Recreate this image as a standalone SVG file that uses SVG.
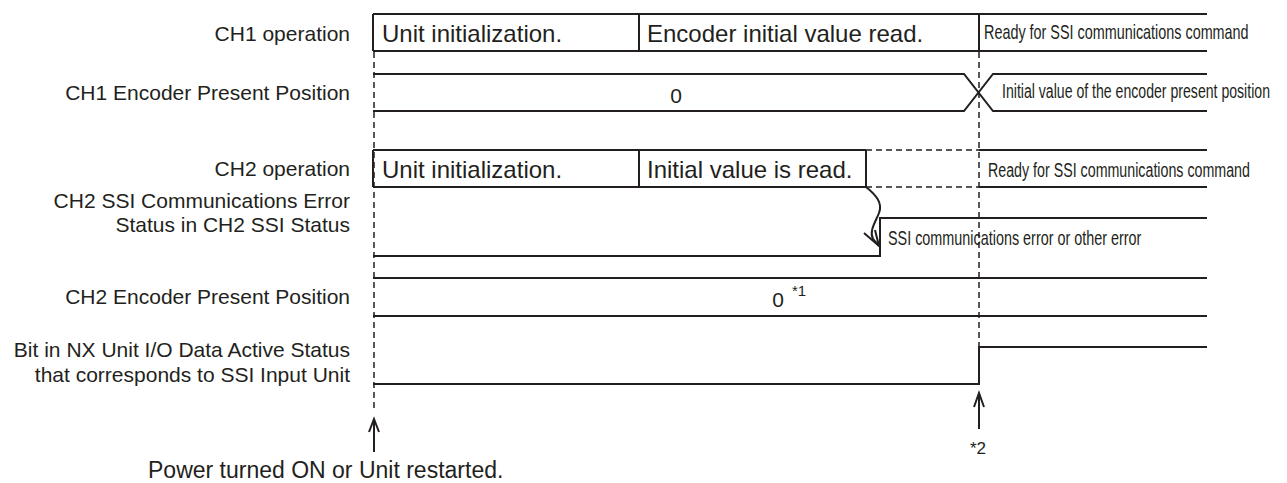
<svg xmlns="http://www.w3.org/2000/svg" width="1287" height="483" viewBox="0 0 1287 483">
<style>
.lbl{font-family:"Liberation Sans",Arial,sans-serif;font-size:21px;fill:#231f20;text-anchor:end}
.box{font-family:"Liberation Sans",Arial,sans-serif;font-size:24px;fill:#231f20}
.val{font-family:"Liberation Sans",Arial,sans-serif;font-size:21px;fill:#231f20;text-anchor:middle}
.nar{font-family:"Liberation Sans",Arial,sans-serif;font-size:20px;fill:#231f20}
.note{font-family:"Liberation Sans",Arial,sans-serif;fill:#231f20}
.sig{fill:none;stroke:#231f20;stroke-width:2}
.dash{fill:none;stroke:#231f20;stroke-width:1.5;stroke-dasharray:6 4}
.arr{fill:none;stroke:#231f20;stroke-width:2}
</style>
<rect width="1287" height="483" fill="#fff"/>
<g id="labels">
<text class="lbl" x="350" y="41">CH1 operation</text>
<text class="lbl" x="350" y="100">CH1 Encoder Present Position</text>
<text class="lbl" x="350" y="176">CH2 operation</text>
<text class="lbl" x="350" y="208">CH2 SSI Communications Error</text>
<text class="lbl" x="350" y="232">Status in CH2 SSI Status</text>
<text class="lbl" x="350" y="304">CH2 Encoder Present Position</text>
<text class="lbl" x="350" y="357">Bit in NX Unit I/O Data Active Status</text>
<text class="lbl" x="350" y="382">that corresponds to SSI Input Unit</text>
</g>
<g id="guides">
<line class="dash" x1="374" y1="52" x2="374" y2="410"/>
<line class="dash" x1="979" y1="52" x2="979" y2="346"/>
</g>
<g id="ch1-operation">
<path class="sig" d="M373,14 H1207 M373,51 H1207 M373,14 V51 M639,14 V51 M979,14 V51"/>
<text class="box" x="382" y="42">Unit initialization.</text>
<text class="box" x="647" y="42">Encoder initial value read.</text>
<text class="nar" transform="translate(984,39) scale(0.72,1)">Ready for SSI communications command</text>
</g>
<g id="ch1-encoder">
<path class="sig" d="M373,74 H964 L993,111 H1207 M373,111 H964 L993,74 H1207"/>
<text class="val" x="676" y="103">0</text>
<text class="nar" transform="translate(1002,98) scale(0.705,1)">Initial value of the encoder present position</text>
</g>
<g id="ch2-operation">
<path class="sig" d="M373,150 H866 M373,187 H866 M373,150 V187 M639,150 V187 M866,150 V187 M979,150 H1207 M979,187 H1207"/>
<path class="dash" d="M866,150 H979 M866,187 H979"/>
<text class="box" x="382" y="178">Unit initialization.</text>
<text class="box" x="647" y="178">Initial value is read.</text>
<text class="nar" transform="translate(988,177) scale(0.712,1)">Ready for SSI communications command</text>
</g>
<g id="ch2-ssi-error">
<path class="sig" d="M373,256 H880 V218 H1207"/>
<text class="nar" transform="translate(888,245) scale(0.72,1)">SSI communications error or other error</text>
</g>
<g id="ch2-encoder">
<path class="sig" d="M373,278 H1207 M373,316 H1207"/>
<text class="val" x="778" y="307">0</text>
<text class="note" x="792" y="296" font-size="15">*1</text>
</g>
<g id="bit-active">
<path class="sig" d="M373,384 H979 V347 H1207"/>
</g>
<g id="connectors">
<path class="arr" d="M866,187 C876,195 883,203 879,213 C875,223 869,231 873,239 L879,246"/>
<path class="arr" d="M864,233 L879,246 L875,230"/>
<path class="arr" d="M374,452 V419 M369,432 L374,419 L379,432"/>
<path class="arr" d="M979,429 V393 M974,407 L979,393 L984,407"/>
</g>
<g id="notes">
<text class="note" x="970" y="454" font-size="17">*2</text>
<text class="note" x="148" y="478" font-size="23">Power turned ON or Unit restarted.</text>
</g>
</svg>
